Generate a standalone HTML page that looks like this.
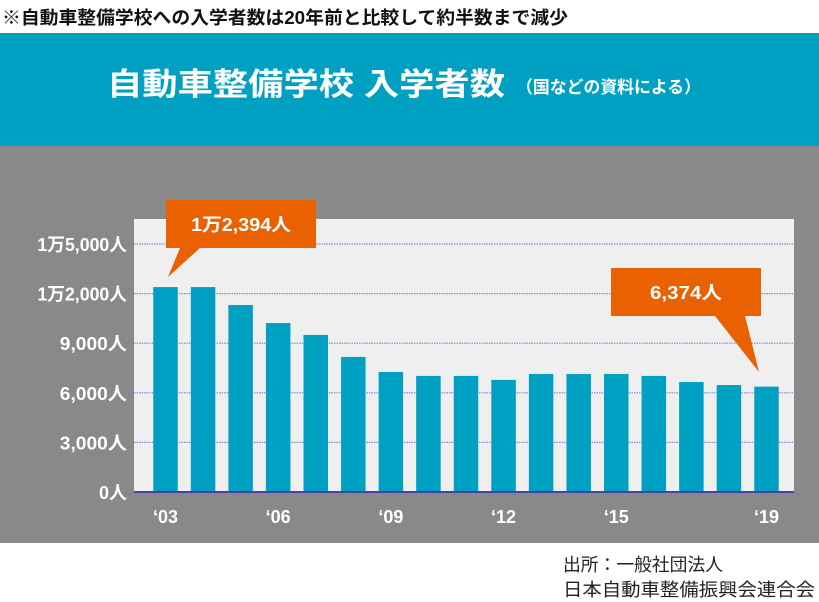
<!DOCTYPE html>
<html><head><meta charset="utf-8">
<style>
html,body{margin:0;padding:0;background:#fff;}
svg{display:block;}
text{font-family:"Liberation Sans","Noto Sans CJK JP",sans-serif;}
</style></head>
<body>
<svg id="chart" width="819" height="602" viewBox="0 0 819 602" xmlns="http://www.w3.org/2000/svg">
  <rect x="0" y="0" width="819" height="602" fill="#fff"/>
  <text x="2" y="24" font-size="18" font-weight="bold" fill="#111" textLength="566" lengthAdjust="spacingAndGlyphs">※自動車整備学校への入学者数は20年前と比較して約半数まで減少</text>
  <rect x="0" y="33" width="819" height="113" fill="#00a0c2"/>
  <text x="107" y="95" font-size="31" font-weight="bold" fill="#fff" textLength="398" lengthAdjust="spacingAndGlyphs">自動車整備学校 入学者数</text>
  <text x="516" y="93" font-size="17" font-weight="bold" fill="#fff" textLength="185" lengthAdjust="spacingAndGlyphs">（国などの資料による）</text>
  <rect x="0" y="146" width="819" height="397" fill="#898989"/>
  <rect x="134" y="219" width="660" height="273" fill="#efefef"/>
  <g id="grid"></g>
  <g id="bars"></g>
  <g id="ylabels"></g>
  <g id="xlabels"></g>
  <line x1="134" y1="492" x2="794" y2="492" stroke="#4a3fa8" stroke-width="2"/>
  <g>
    <polygon points="166,200 316,200 316,248 200,248 168,277 180,248 166,248" fill="#e96100"/>
    <text x="241" y="231" font-size="18" font-weight="bold" fill="#fff" text-anchor="middle" textLength="100" lengthAdjust="spacingAndGlyphs">1万2,394人</text>
  </g>
  <g>
    <polygon points="611,268 761,268 761,316 745,316 759,372 715,316 611,316" fill="#e96100"/>
    <text x="686" y="299" font-size="18" font-weight="bold" fill="#fff" text-anchor="middle" textLength="72" lengthAdjust="spacingAndGlyphs">6,374人</text>
  </g>
  <text x="563" y="571" font-size="18" fill="#222" textLength="160" lengthAdjust="spacingAndGlyphs">出所：一般社団法人</text>
  <text x="563" y="596" font-size="18" fill="#222" textLength="252" lengthAdjust="spacingAndGlyphs">日本自動車整備振興会連合会</text>
</svg>
<script>
const years = ["'03","'04","'05","'06","'07","'08","'09","'10","'11","'12","'13","'14","'15","'16","'17","'18","'19"];
const enrollment = [12394,12394,11310,10220,9500,8170,7260,7020,7020,6780,7140,7140,7140,7020,6650,6470,6374];
const yTicks = [0,3000,6000,9000,12000,15000];
const yTickLabels = ["0人","3,000人","6,000人","9,000人","1万2,000人","1万5,000人"];
const xLabelIndices = [0,3,6,9,12,16];

const NS = "http://www.w3.org/2000/svg";
const plotLeft = 134, plotRight = 794, plotBottom = 492, plotTopVal = 244;
const yMax = 15000;
function yScale(v){ return plotBottom - v/yMax*(plotBottom-plotTopVal); }
const firstCenter = 165.5, lastCenter = 766.5;
function xScale(i){ return firstCenter + i*(lastCenter-firstCenter)/(years.length-1); }
const barW = 24.5;

const grid = document.getElementById('grid');
const yl = document.getElementById('ylabels');
yTicks.forEach((t,i)=>{
  if(t>0){
    const l = document.createElementNS(NS,'line');
    
    
    l.setAttribute('x1',plotLeft); l.setAttribute('x2',plotRight);
    l.setAttribute('y1',yScale(t)); l.setAttribute('y2',yScale(t));
    l.setAttribute('stroke','#8a80e0'); l.setAttribute('stroke-width','1.2');
    l.setAttribute('stroke-dasharray','1.5 1');
    grid.appendChild(l);
  }
  const tx = document.createElementNS(NS,'text');
  
  
  tx.setAttribute('x',127); tx.setAttribute('y',yScale(t)+7);
  tx.setAttribute('text-anchor','end');
  tx.setAttribute('font-size','18'); tx.setAttribute('font-weight','bold');
  tx.setAttribute('fill','#fff');
  const lbl = yTickLabels[i];
  if(lbl.length > 3){
    tx.setAttribute('textLength', String(lbl.length*11.2));
    tx.setAttribute('lengthAdjust','spacingAndGlyphs');
  }
  tx.textContent = lbl;
  yl.appendChild(tx);
});

const bars = document.getElementById('bars');
enrollment.forEach((v,i)=>{
  const r = document.createElementNS(NS,'rect');
  
  
  r.setAttribute('x',xScale(i)-barW/2);
  r.setAttribute('y',yScale(v));
  r.setAttribute('width',barW);
  r.setAttribute('height',plotBottom-yScale(v));
  r.setAttribute('fill','#00a0c2');
  bars.appendChild(r);
});

const xl = document.getElementById('xlabels');
xLabelIndices.forEach(i=>{
  const tx = document.createElementNS(NS,'text');
  
  
  tx.setAttribute('x',xScale(i)); tx.setAttribute('y',523);
  tx.setAttribute('text-anchor','middle');
  tx.setAttribute('font-size','18'); tx.setAttribute('font-weight','bold');
  tx.setAttribute('fill','#fff');
  tx.textContent = years[i].replace("'","‘");
  xl.appendChild(tx);
});
</script>
</body></html>
